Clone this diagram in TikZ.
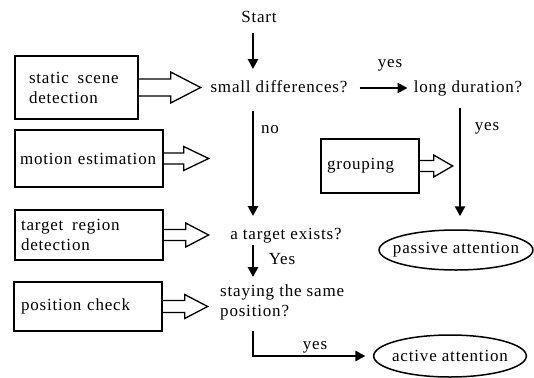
\documentclass[tikz,border=0pt]{standalone}
\usepackage{fontspec}
\setmainfont{Liberation Serif}[LetterSpace=4.8]
\usetikzlibrary{arrows.meta,shapes.geometric}

\newcommand{\hollowarrow}[5]{%
  \draw[line width=1.3pt,line join=miter] (#1.east) ++(0,-#3) -- ++(#2,0) -- ++(0,{#3-#4})
    -- ++(#5,#4) -- ++(-#5,#4) -- ++(0,{#3-#4}) -- ++(-#2,0);}

\begin{document}
\begin{tikzpicture}[x=1pt,y=-1pt,>={Triangle[length=10pt,width=10pt]},
                    font=\fontsize{17}{20}\selectfont]
  \tikzstyle{box}=[draw,line width=1.3pt,align=left,inner sep=0pt]
  \tikzstyle{question}=[inner sep=2pt,text height=12pt,text depth=3.5pt]
  \tikzstyle{flow}=[->,line width=2.5pt]
  \tikzstyle{result}=[ellipse,draw,line width=1.5pt,inner ysep=0pt]
  \tikzstyle{answer}=[inner sep=1pt]

  \useasboundingbox (0,0) rectangle (534,377);

  \node[question] (start) at (259,18) {Start};
  \node[question] (sd) at (279,88) {small differences?};
  \node[question] (ld) at (468,88) {long duration?};
  \node[question] (te) at (286,235) {a target exists?};
  \node[align=left,inner sep=2pt,anchor=west] (ss) at (218,302) {staying the same\\position?};
  \node[result,inner xsep=-8.6pt,minimum height=40pt] (pa) at (456,250) {passive attention};
  \node[result,inner xsep=-3.9pt,minimum height=42pt] (aa) at (450,356) {active attention};

  \node[box,minimum width=123pt,minimum height=63pt,text width=95pt] (ssd) at (76.5,87.5) {static\hspace{3pt} scene\\detection};
  \node[box,minimum width=148pt,minimum height=57pt,text width=138pt] (me) at (89,158.5) {motion estimation};
  \node[box,minimum width=148pt,minimum height=50pt,text width=136pt] (trd) at (89,235) {target\hspace{3pt} region\\detection};
  \node[box,minimum width=148pt,minimum height=49pt,text width=134pt] (pc) at (88,306.5) {position check};
  \node[box,minimum width=98pt,minimum height=54pt,text width=86pt] (gr) at (370,166) {grouping};

  \node[answer] (y1) at (390,65) {yes};
  \node[answer] (n1) at (270,130) {no};
  \node[answer] (y2) at (487,128) {yes};
  \node[answer] (y3) at (282,259) {Yes};
  \node[answer] (y4) at (315,347) {yes};

  \coordinate (lspine) at (253,0);
  \coordinate (rspine) at (460,0);

  \draw[flow,shorten <=5pt,shorten >=9pt] (start.south -| lspine) -- (sd.north -| lspine);
  \draw[flow,shorten <=10pt,shorten >=4pt] (sd.east) -- (sd.east -| ld.west);
  \draw[flow,shorten <=13pt,shorten >=9pt] (sd.south -| lspine) -- (te.north -| lspine);
  \draw[flow,shorten >=5pt] (te.south -| lspine) -- (ss.north -| lspine);
  \draw[flow,shorten <=9pt,shorten >=7.5pt] (ss.south -| lspine) -- (lspine |- aa.west) -- (aa.west);
  \draw[flow,shorten <=10pt,shorten >=13pt] (ld.south -| rspine) -- (pa.north -| rspine);

  \hollowarrow{ssd}{32}{8.5}{15.5}{30}
  \hollowarrow{me}{20}{5.5}{12}{25}
  \hollowarrow{trd}{22}{5.5}{12}{23}
  \hollowarrow{pc}{22}{6}{12}{23}
  \hollowarrow{gr}{14}{5.5}{11}{19}
\end{tikzpicture}
\end{document}
